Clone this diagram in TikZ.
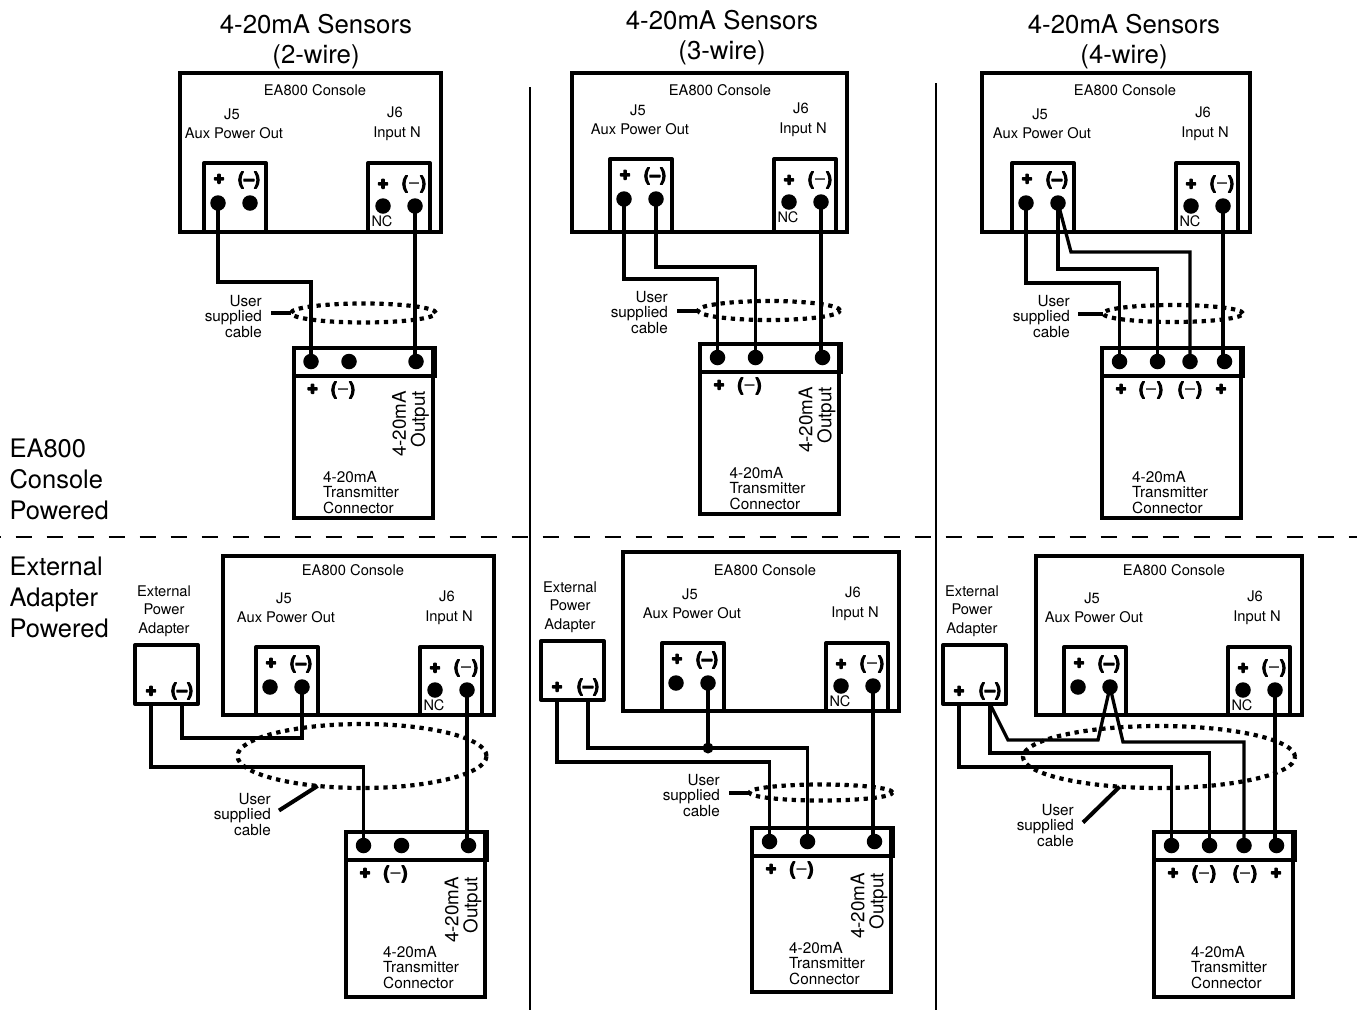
\documentclass[tikz,border=0pt]{standalone}
\usepackage{fontspec}
\setmainfont{TeX Gyre Heros}
\usetikzlibrary{shapes.geometric}
\newcommand{\heavy}[2]{{\special{pdf:code 2 Tr #1 w}#2\special{pdf:code 0 Tr}}}
\newcommand{\thicksign}{\heavy{1.1}{\bfseries(\textendash)}}
\newcommand{\thinsign}{\heavy{1.1}{\bfseries(}\kern1pt{\textendash}\kern1pt\heavy{1.1}{\bfseries)}}
\begin{document}
\begin{tikzpicture}[x=1pt,y=-1pt,line join=round,% one unit is one pixel of the sheet, y runs down
        box/.style={draw,line width=4pt,fill=white,minimum width=62pt,anchor=north west,inner sep=0pt,outer sep=0pt},
        terminal/.style={circle,fill=black,minimum size=15.5pt,inner sep=0pt,outer sep=0pt},
        wire/.style={line width=3.3pt,line join=miter},
        leader/.style={line width=4pt},
        cableloop/.style={ellipse,draw,line width=4.2pt,dash pattern=on 4.3pt off 4.7pt,inner sep=0pt,outer sep=0pt},
        heading/.style={font=\fontsize{25.8}{30}\selectfont,align=center},
        sidetext/.style={font=\fontsize{25.5}{31}\selectfont,align=left,anchor=west},
        small/.style={font=\fontsize{15.3}{15.5}\selectfont},
        consoletext/.style={font=\fontsize{14.7}{15}\selectfont},
        sign/.style={font=\fontsize{18}{18}\selectfont,inner sep=0pt},
        plussign/.style={font=\fontsize{19}{19}\selectfont,inner sep=0pt}]
\useasboundingbox (0,0) rectangle (1357,1010);

\node[heading] (title-1) at (316,42) {4-20mA Sensors\\(2-wire)};
\node[heading] (title-2) at (722,38) {4-20mA Sensors\\(3-wire)};
\node[heading] (title-3) at (1124,42) {4-20mA Sensors\\(4-wire)};
\node[sidetext] (side-top) at (6,479.5) {EA800\\Console\\Powered};
\node[sidetext] (side-bot) at (6,597) {External\\Adapter\\Powered};

\draw[line width=2pt] (530,87) -- (530,1010);
\draw[line width=2pt] (936,83) -- (936,1010);
\draw[line width=2.3pt,dash pattern=on 16pt off 15pt,dash phase=15.3pt] (0,537) -- (1357,537);

%consoles: left,right,top of the frame, left of J5, top of J5, left of J6, centre of the title
\foreach[count=\xi] \cleft/\cright/\ctop/\jfive/\jtop/\jsix/\tx/\ty in {%
179.5/441/73/204/163/368/315/90.5,
572/847/73/610/159/774/720/90.5,
982/1250/73/1012/163/1176/1125/90.5,
223/494/556/256/647/420/353/570.5,
623/899/552/662/643/826/765/570.5,
1036/1302/556/1064/647/1228/1174/570.5}{
\draw[line width=4pt,line join=miter] (\cleft,\ctop) rectangle (\cright,\ctop+159);
\node[consoletext] (console-\xi) at (\tx,\ty) {EA800 Console};
\node[box,minimum height={\ctop+159-\jtop}] (J5box-\xi) at (\jfive,\jtop) {};
\node[box,minimum height={\ctop+159-\jtop}] (J6box-\xi) at (\jsix,\jtop) {};
\node[consoletext] (J5text-\xi) at ([shift={(28,-49)}]J5box-\xi.north west) {J5};
\node[consoletext] (auxtext-\xi) at ([shift={(30,-30)}]J5box-\xi.north west) {Aux Power Out};
\node[consoletext] (J6text-\xi) at ([shift={(27,-51)}]J6box-\xi.north west) {J6};
\node[consoletext] (inputtext-\xi) at ([shift={(29,-29)}]J6box-\xi.north west) {Input N};
\node[terminal] (J5p-\xi) at ([shift={(14,40)}]J5box-\xi.north west) {};
\node[terminal] (J5m-\xi) at ([shift={(46,40)}]J5box-\xi.north west) {};
\node[terminal] (J6p-\xi) at ([shift={(15,43)}]J6box-\xi.north west) {};
\node[terminal] (J6m-\xi) at ([shift={(47,43)}]J6box-\xi.north west) {};
\node[plussign] (J5plus-\xi) at ([shift={(15,16)}]J5box-\xi.north west) {\heavy{1.6}{\bfseries +}};
\node[sign] (J5minus-\xi) at ([shift={(45,17)}]J5box-\xi.north west) {\thicksign};
\node[plussign] (J6plus-\xi) at ([shift={(15,21)}]J6box-\xi.north west) {\heavy{1.6}{\bfseries +}};
\node[sign] (J6minus-\xi) at ([shift={(46,21)}]J6box-\xi.north west) {\thinsign};
\node[font=\fontsize{14.5}{14.5}\selectfont,inner sep=0pt] (NC-\xi) at ([shift={(14,58)}]J6box-\xi.north west) {NC};
}

%transmitters: left, top, bottom, centre of the side text, left and lift of the lower text
\foreach[count=\xi] \tleft/\ttop/\tbot/\ymid/\lx/\ly in {%
293.5/348/518/424/29.5/25.5,
700/344/514/420/29.5/25.5,
1102/348/518/0/30/25.5,
346/832/997/910/37/29.5,
752/828/992/906/37/28.5,
1154/832/997/0/37/29.5}{
\draw[line width=4pt,line join=miter] (\tleft,\ttop) rectangle (\tleft+139,\tbot);
\draw[line width=4pt,line join=miter] (\tleft,\ttop) rectangle (\tleft+141,\ttop+28);
\node[small,align=left,anchor=west,inner sep=0pt] (lowtext-\xi) at (\tleft+\lx,\tbot-\ly) {4-20mA\\Transmitter\\Connector};
\node[plussign] (Tplus-\xi) at (\tleft+19,\ttop+41) {\heavy{1.6}{\bfseries +}};
}
\foreach \xi/\tleft/\ttop/\ymid in {1/293.5/348/424,2/700/344/420,4/346/832/910,5/752/828/906}{
\node[rotate=90,align=right,font=\fontsize{18.8}{19}\selectfont,inner sep=0pt] (outtext-\xi) at (\tleft+117,\ymid) {4-20mA\\Output};
\node[sign] (Tminus-\xi) at (\tleft+49.5,\ttop+42) {\thinsign};
\foreach[count=\tn] \dx in {17.5,55.5,122.5}{
\node[terminal] (T-\xi-\tn) at (\tleft+\dx,\ttop+13.5) {};
}
}
\foreach \xi/\tleft/\ttop/\dxc/\dxd/\dxe/\dxf in {3/1102/348/88/49/88/119,6/1154/832/90/50/91/122}{
\foreach[count=\tn] \dx in {17.5,55.5,\dxc,122.5}{
\node[terminal] (T-\xi-\tn) at (\tleft+\dx,\ttop+13.5) {};
}
\node[sign] (Tminus-\xi) at (\tleft+\dxd,\ttop+42) {\thinsign};
\node[sign] (Tminusb-\xi) at (\tleft+\dxe,\ttop+42) {\thinsign};
\node[plussign] (Tplusb-\xi) at (\tleft+\dxf,\ttop+41) {\heavy{1.6}{\bfseries +}};
}

%external adapters on the lower row
\foreach \xi/\ax/\ay in {4/135/645,5/541/641,6/943/645}{
\draw[line width=4pt] (\ax,\ay) rectangle (\ax+63,\ay+59);
\node[coordinate] (adapter-\xi) at (\ax,\ay+59) {};
\node[plussign] (adplus-\xi) at (\ax+16,\ay+46) {\heavy{1.6}{\bfseries +}};
\node[sign] (adminus-\xi) at (\ax+47,\ay+46) {\thicksign};
\node[small,font=\fontsize{14.7}{18.5}\selectfont,align=center] (adtext-\xi) at (\ax+29,\ay-34) {External\\Power\\Adapter};
}

%cable loops and their labels
\foreach \xi/\ex/\ey/\ew/\eh/\lx/\ly in {1/363.5/313/145/19/262/316.5,2/769/310.5/142/19/668/312.5,3/1173/313.5/140/17/1070/316.5,4/362/756/249/64/271/814.5,5/821/792.5/143/16/720/795.5,6/1159/757/272/62/1074/825.5}{
\node[cableloop,minimum width=\ew pt,minimum height=\eh pt] (cable-\xi) at (\ex,\ey) {};
\node[small,align=right,anchor=east,inner sep=0pt] (usertext-\xi) at (\lx,\ly) {User\\supplied\\cable};
}
\draw[leader] ([xshift=9pt]usertext-1.east |- cable-1.west) -- (cable-1.west);
\draw[leader] ([xshift=9pt]usertext-2.east |- cable-2.west) -- (cable-2.west);
\draw[leader] ([xshift=8pt]usertext-3.east |- cable-3.west) -- (cable-3.west);
\draw[leader] ([shift={(8,-4)}]usertext-4.east) -- (cable-4.214);
\draw[leader] ([xshift=9pt]usertext-5.east |- cable-5.west) -- (cable-5.west);
\draw[leader] ([shift={(9,-3)}]usertext-6.east) -- (cable-6.217);

%2-wire, console powered
\draw[wire] (J5p-1.center) -- ++(0,79) -| (T-1-1.center);
\draw[wire] (J6m-1.center) -- (J6m-1 |- T-1-3);
%3-wire, console powered
\draw[wire] (J5p-2.center) -- ++(0,80) -| (T-2-1.center);
\draw[wire] (J5m-2.center) -- ++(0,68) -| (T-2-2.center);
\draw[wire] (J6m-2.center) -- (J6m-2 |- T-2-3);
%4-wire, console powered
\draw[wire] (J5p-3.center) -- ++(0,80) -| (T-3-1.center);
\draw[wire] (J5m-3.center) -- ++(0,66) -| (T-3-2.center);
\draw[wire] (J5m-3.center) -- (1071,252) -| (T-3-3.center);
\draw[wire] (J6m-3.center) -- (J6m-3 |- T-3-4);
%2-wire, adapter powered
\draw[wire] (adplus-4 |- adapter-4) -- ++(0,63) -| (T-4-1.center);
\draw[wire] (adminus-4 |- adapter-4) -- ++(0,34) -| (J5m-4.center);
\draw[wire] (J6m-4.center) -- (J6m-4 |- T-4-3);
%3-wire, adapter powered
\draw[wire] (adplus-5 |- adapter-5) -- ++(0,62) -| (T-5-1.center);
\draw[wire] (adminus-5 |- adapter-5) -- ++(0,48) -| (T-5-2.center);
\node[circle,fill=black,minimum size=11pt,inner sep=0pt] (tee-5) at (J5m-5 |- 0,748) {};
\draw[wire] (J5m-5.center) -- (tee-5.center);
\draw[wire] (J6m-5.center) -- (J6m-5 |- T-5-3);
%4-wire, adapter powered
\draw[wire] (adplus-6 |- adapter-6) -- ++(0,63) -| (T-6-1.center);
\draw[wire] (adminus-6 |- adapter-6) -- ++(0,49) -| (T-6-2.center);
\draw[wire] (adminus-6 |- adapter-6) -- (1008,740) -- (1098,740) -- (J5m-6.center) -- (1123,742) -| (T-6-3.center);
\draw[wire] (J6m-6.center) -- (J6m-6 |- T-6-4);

\end{tikzpicture}
\end{document}
